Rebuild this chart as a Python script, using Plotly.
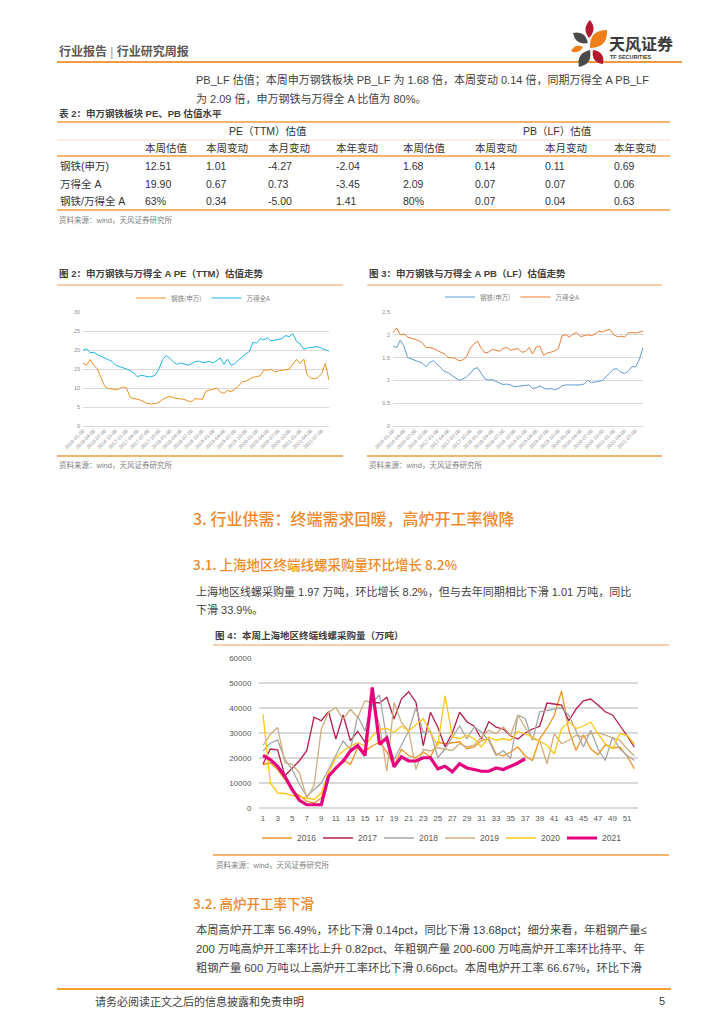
import plotly.graph_objects as go

W, H = 724, 1024
FONT = "Liberation Sans, Noto Sans CJK SC"
CJK = "Noto Sans CJK SC"

# ---------------- data: valuation trends (monthly) ----------------
val_dates = [f"{y}-{m:02d}-08" for y in range(2016, 2022) for m in range(1, 13)][:69]

steel_pe = [16.5, 16.0, 17.5, 16.0, 15.0, 12.5, 10.5, 9.8, 9.8, 9.5,
            9.8, 10.3, 10.0, 7.5, 7.3, 7.0, 6.8, 6.3, 5.9, 5.8,
            5.9, 6.2, 7.0, 7.5, 7.8, 7.4, 7.3, 7.3, 7.0, 6.6,
            6.4, 7.2, 7.1, 7.0, 9.2, 9.5, 9.7, 9.9, 9.0, 8.6,
            9.4, 9.0, 9.7, 10.5, 11.6, 11.8, 12.3, 12.8, 13.0, 13.2,
            14.8, 14.6, 15.0, 14.2, 14.5, 14.6, 14.8, 15.0, 16.2, 17.5,
            16.5, 17.6, 13.5, 12.6, 12.4, 12.8, 13.8, 16.5, 12.0]
windA_pe = [20.0, 20.3, 19.3, 19.4, 18.8, 18.3, 17.8, 17.5, 17.0, 16.0,
            15.7, 15.5, 15.0, 14.6, 14.0, 13.0, 13.3, 13.2, 12.9, 13.0,
            13.4, 15.0, 17.5, 18.5, 17.8, 16.8, 16.2, 16.6, 16.3, 16.0,
            16.4, 16.9, 17.1, 16.7, 16.8, 17.0, 16.6, 17.2, 17.9, 16.2,
            17.6, 16.0, 16.4, 17.3, 18.3, 19.0, 19.6, 22.0, 21.8, 23.0,
            22.7, 23.2, 22.4, 22.6, 22.8, 23.0, 23.8, 23.5, 24.3, 22.3,
            21.6, 20.2, 20.5, 20.6, 20.8, 20.9, 20.4, 20.0, 19.7]
steel_pb = [1.75, 1.72, 1.88, 1.75, 1.50, 1.47, 1.43, 1.40, 1.38, 1.30,
            1.40, 1.43, 1.35, 1.25, 1.20, 1.17, 1.12, 1.05, 1.00, 1.03,
            1.08, 1.15, 1.25, 1.28, 1.15, 1.03, 1.01, 1.02, 0.98, 0.94,
            0.91, 0.92, 0.90, 0.86, 0.87, 0.89, 0.90, 0.90, 0.82, 0.84,
            0.88, 0.83, 0.81, 0.82, 0.80, 0.82, 0.88, 0.90, 0.90, 0.90,
            0.90, 0.90, 0.92, 1.00, 0.95, 0.96, 0.98, 1.00, 1.08, 1.17,
            1.25, 1.25, 1.18, 1.15, 1.20, 1.30, 1.30, 1.45, 1.72]
windA_pb = [2.05, 2.15, 2.00, 2.02, 1.95, 1.93, 1.90, 1.87, 1.82, 1.72,
            1.72, 1.70, 1.66, 1.62, 1.58, 1.50, 1.50, 1.48, 1.43, 1.45,
            1.52, 1.70, 1.80, 1.86, 1.70, 1.60, 1.62, 1.68, 1.66, 1.64,
            1.70, 1.72, 1.66, 1.68, 1.70, 1.62, 1.63, 1.72, 1.58, 1.73,
            1.75, 1.55, 1.60, 1.62, 1.65, 1.70, 1.98, 2.00, 1.95, 2.02,
            2.05, 1.96, 1.98, 2.00, 1.98, 2.02, 2.08, 2.06, 2.10, 2.12,
            2.00, 1.96, 1.97, 1.95, 2.04, 2.05, 2.04, 2.06, 2.08]

# ---------------- data: Shanghai rebar purchases by week ----------------
weeks = list(range(1, 53))
week_ticks = list(range(1, 52, 2))
rebar_years = ["2016", "2017", "2018", "2019", "2020", "2021"]
rebar_2016 = [17400, 18100, 15400, 11400, 6700, 5000, 2700, 2000, 4000, 12700,
              15400, 19400, 17400, 24100, 22800, 24800, 26400, 22400, 16800, 23500,
              21000, 20100, 22400, 20500, 26400, 25700, 26100, 26500, 23700, 24400,
              27100, 27700, 21700, 20800, 22400, 24400, 20800, 19000, 27700, 31800,
              37100, 46800, 31100, 23000, 29300, 23700, 21300, 25300, 24000, 24400,
              20800, 15700]
rebar_2017 = [17600, 23600, 23300, 12900, 15900, 18900, 22900, 36300, 34900, 38500,
              27600, 37200, 26900, 30700, 26300, 42300, 42000, 44300, 35600, 43600,
              46500, 42300, 24900, 38300, 32300, 24500, 30000, 38300, 34500, 32700,
              27600, 34500, 32300, 31600, 28900, 27600, 30000, 31600, 32700, 42000,
              41600, 41200, 34900, 39600, 42900, 43600, 41200, 38500, 37200, 33200,
              28900, 24300]
rebar_2018 = [22800, 25900, 27200, 19400, 15400, 9400, 4700, 7400, 10000, 15400,
              21400, 26800, 23400, 36900, 30800, 42200, 45200, 27500, 19400, 24800,
              30800, 40200, 30200, 30800, 20100, 23700, 28400, 32800, 27700, 32400,
              30400, 27100, 21000, 23000, 19700, 37100, 35800, 27100, 38500, 39100,
              39500, 40100, 37100, 30400, 24400, 31100, 23700, 19000, 28400, 23700,
              21000, 19000]
rebar_2019 = [25000, 29500, 32200, 18100, 17400, 14100, 4000, 9000, 31500, 38200,
              40200, 35500, 39500, 36200, 42900, 42200, 33500, 14700, 42200, 34200,
              30800, 15400, 23500, 22800, 24100, 23700, 23000, 25700, 24400, 25100,
              28400, 31100, 29700, 32400, 29100, 37100, 32400, 27500, 27100, 17700,
              29700, 25700, 27100, 29100, 28400, 29700, 30100, 29100, 28400, 27100,
              23700, 20800]
rebar_2020 = [37500, 10000, 6000, 5800, 5000, 4400, 4000, 3400, 6000, 14100,
              20100, 22800, 24800, 26100, 24800, 28800, 31500, 31800, 30200, 32800,
              30800, 33500, 35800, 30200, 24800, 45000, 28400, 27700, 29100, 27700,
              24400, 28400, 27100, 27700, 27100, 30700, 29700, 28400, 26700, 25100,
              21700, 31800, 34400, 31800, 32800, 34400, 29700, 25700, 23700, 29700,
              29100, 25700]
rebar_2021 = [21000, 19400, 16700, 12700, 7400, 3100, 1300, 1300, 1300, 12700,
              16000, 18700, 22800, 25000, 21000, 48200, 25500, 28000, 16500, 20500,
              18800, 18800, 20100, 20100, 15700, 16700, 14500, 17700, 16000, 15400,
              14700, 14700, 16000, 15400, 16700, 18000, 19700]

# ---------------- data: table 2 ----------------
table_groups = ["PE（TTM）估值", "PB（LF）估值"]
table_subheads = ["本周估值", "本周变动", "本月变动", "本年变动",
                  "本周估值", "本周变动", "本月变动", "本年变动"]
table_rows = ["钢铁(申万)", "万得全 A", "钢铁/万得全 A"]
table_vals = [["12.51", "1.01", "-4.27", "-2.04", "1.68", "0.14", "0.11", "0.69"],
              ["19.90", "0.67", "0.73", "-3.45", "2.09", "0.07", "0.07", "0.06"],
              ["63%", "0.34", "-5.00", "1.41", "80%", "0.07", "0.04", "0.63"]]

# ---------------- helpers (pixel -> paper) ----------------
def X(px):
    return px / W

def Y(py):
    return 1 - py / H

annotations = []
shapes = []

def txt(x, y, s, size=11.5, color="#3F3F3F", anchor="left", family=FONT, weight=None):
    f = dict(size=size, color=color, family=family)
    if weight:
        f["weight"] = weight
    annotations.append(dict(x=X(x), y=Y(y), xref="paper", yref="paper", text=s,
                            showarrow=False, xanchor=anchor, yanchor="middle",
                            font=f, align=anchor))

def rule(x0, x1, y, color="#F29B3C", width=1.5):
    shapes.append(dict(type="line", xref="paper", yref="paper", x0=X(x0), x1=X(x1),
                       y0=Y(y), y1=Y(y), line=dict(color=color, width=width)))

def leaf(ax, ay, bx, by, w, color):
    mx, my = (ax + bx) / 2, (ay + by) / 2
    dx, dy = bx - ax, by - ay
    L = (dx * dx + dy * dy) ** 0.5
    nx, ny = -dy / L, dx / L
    c1 = (mx + nx * w, my + ny * w)
    c2 = (mx - nx * w, my - ny * w)
    p = (f"M{X(ax)},{Y(ay)} Q{X(c1[0])},{Y(c1[1])} {X(bx)},{Y(by)} "
         f"Q{X(c2[0])},{Y(c2[1])} {X(ax)},{Y(ay)} Z")
    shapes.append(dict(type="path", xref="paper", yref="paper", path=p,
                       fillcolor=color, line=dict(width=0)))

ORANGE = "#F29B3C"
LIGHT = "#F7C08F"
GRID = "#D9D9D9"
GREY = "#7F7F7F"

# ---------------- page header ----------------
txt(57, 51, "<b>行业报告</b> <span style='color:#999'>|</span> <b>行业研究周报</b>", 12, "#595959")
rule(57, 682, 62, ORANGE, 2)
RED, DARK, ORG = "#B3182F", "#4A4A4A", "#EF7F1A"
leaf(590, 20, 589, 38, 8, RED)
leaf(573, 33, 588, 43, 9, DARK)
leaf(607, 30, 590, 48, 13, ORG)
leaf(571, 51, 583, 47, 6, ORG)
leaf(590, 50, 579, 67, 10, DARK)
leaf(593, 50, 603, 64, 9, RED)
txt(607, 43, "<b>天风证券</b>", 16, "#3A3A3A", family=CJK)
txt(608, 57, "<b>TF SECURITIES</b>", 5.5, "#3A3A3A")

# ---------------- paragraph + table ----------------
txt(194, 79, "PB_LF 估值；本周申万钢铁板块 PB_LF 为 1.68 倍，本周变动 0.14 倍，同期万得全 A PB_LF", 11)
txt(194, 98, "为 2.09 倍，申万钢铁与万得全 A 比值为 80%。", 11)
txt(57, 113, "<b>表 2：申万钢铁板块 PE、PB 估值水平</b>", 9.5, "#404040")
rule(57, 670, 122, ORANGE, 1.3)
rule(57, 670, 140, "#F9D3B0", 0.8)
rule(57, 670, 156, ORANGE, 1.3)
rule(57, 670, 210, ORANGE, 1.3)
col_x = [58, 143, 204, 266, 334, 401, 473, 543, 612]
group_cx = [268, 557]
for g, cx in zip(table_groups, group_cx):
    txt(cx, 131, g, 10.5, "#333333", anchor="center")
for s, cx in zip(table_subheads, col_x[1:]):
    txt(cx, 148, s, 10.5, "#333333")
for r, (name, vals) in enumerate(zip(table_rows, table_vals)):
    yy = 166 + r * 17.5
    txt(col_x[0], yy, name, 10.5, "#333333")
    for v, cx in zip(vals, col_x[1:]):
        txt(cx, yy, v, 10.5, "#333333")
txt(57, 220, "资料来源：wind，天风证券研究所", 7.5, GREY)

# ---------------- figure 2 / 3 frames ----------------
txt(57, 273, "<b>图 2：申万钢铁与万得全 A PE（TTM）估值走势</b>", 9.5, "#404040")
rule(57, 343, 285, LIGHT, 1.3)
rule(57, 343, 456, ORANGE, 1.3)
txt(57, 465, "资料来源：wind，天风证券研究所", 7.5, GREY)
txt(367, 273, "<b>图 3：申万钢铁与万得全 A PB（LF）估值走势</b>", 9.5, "#404040")
rule(367, 662, 285, LIGHT, 1.3)
rule(367, 662, 456, ORANGE, 1.3)
txt(367, 465, "资料来源：wind，天风证券研究所", 7.5, GREY)

# ---------------- section 3 ----------------
txt(191, 518, "3. 行业供需：终端需求回暖，高炉开工率微降", 16, "#F0892B", family=CJK, weight=500)
txt(191, 564, "3.1. 上海地区终端线螺采购量环比增长 8.2%", 13.5, "#F0892B", family=CJK, weight=500)
txt(194, 591, "上海地区线螺采购量 1.97 万吨，环比增长 8.2%，但与去年同期相比下滑 1.01 万吨，同比", 11)
txt(194, 610, "下滑 33.9%。", 11)
txt(213, 635, "<b>图 4：本周上海地区终端线螺采购量（万吨）</b>", 9.5, "#404040")
rule(213, 669, 645, LIGHT, 1.3)
rule(213, 669, 855, ORANGE, 1.3)
txt(214, 865, "资料来源：wind，天风证券研究所", 7.5, GREY)

txt(191, 903, "3.2. 高炉开工率下滑", 13.5, "#F0892B", family=CJK, weight=500)
txt(194, 929, "本周高炉开工率 56.49%，环比下滑 0.14pct，同比下滑 13.68pct；细分来看，年粗钢产量≤", 11.3)
txt(194, 948, "200 万吨高炉开工率环比上升 0.82pct、年粗钢产量 200-600 万吨高炉开工率环比持平、年", 11.3)
txt(194, 967, "粗钢产量 600 万吨以上高炉开工率环比下滑 0.66pct。本周电炉开工率 66.67%，环比下滑", 11.3)

# ---------------- footer ----------------
rule(57, 671, 989, "#F0A030", 2)
txt(93, 1001, "请务必阅读正文之后的信息披露和免责申明", 11, "#404040")
txt(667, 1001, "5", 11, "#404040", anchor="right")

# ---------------- traces ----------------
fig = go.Figure()
fig.add_trace(go.Scatter(x=val_dates, y=steel_pe, name="钢铁(申万)", mode="lines",
                         line=dict(color="#F0901E", width=1), xaxis="x", yaxis="y", legend="legend"))
fig.add_trace(go.Scatter(x=val_dates, y=windA_pe, name="万得全A", mode="lines",
                         line=dict(color="#1CB4F0", width=1), xaxis="x", yaxis="y", legend="legend"))
fig.add_trace(go.Scatter(x=val_dates, y=steel_pb, name="钢铁(申万)", mode="lines",
                         line=dict(color="#5B9BD5", width=1), xaxis="x2", yaxis="y2", legend="legend2"))
fig.add_trace(go.Scatter(x=val_dates, y=windA_pb, name="万得全A", mode="lines",
                         line=dict(color="#ED7D31", width=1), xaxis="x2", yaxis="y2", legend="legend2"))

rebar_series = [rebar_2016, rebar_2017, rebar_2018, rebar_2019, rebar_2020, rebar_2021]
rebar_colors = ["#F39322", "#B51F48", "#A6A6A6", "#CFAE80", "#FFC61A", "#E5007F"]
rebar_widths = [1.3, 1.3, 1.3, 1.3, 1.3, 3.2]
for yr, vals, col, lw in zip(rebar_years, rebar_series, rebar_colors, rebar_widths):
    fig.add_trace(go.Scatter(x=weeks[:len(vals)], y=vals, name=yr, mode="lines",
                             line=dict(color=col, width=lw), xaxis="x3", yaxis="y3",
                             legend="legend3"))

small_axis = dict(tickfont=dict(size=5.5, color="#8C8C8C"), showline=False, ticks="", automargin=False)
date_axis = dict(type="date", range=[val_dates[0], val_dates[-1]], tickformat="%Y-%m-%d",
                 dtick="M3", tick0=val_dates[0], tickangle=-45, showgrid=False,
                 zeroline=False, tickfont=dict(size=5, color="#8C8C8C"), ticks="",
                 showline=False, automargin=False)

legend_common = dict(orientation="h", bgcolor="rgba(0,0,0,0)", xanchor="center", yanchor="middle",
                     itemclick=False, itemdoubleclick=False, tracegroupgap=0)

fig.update_layout(
    width=W, height=H, autosize=False,
    margin=dict(l=0, r=0, t=0, b=0, pad=0, autoexpand=False),
    paper_bgcolor="white", plot_bgcolor="white",
    font=dict(family=FONT, color="#404040"),
    showlegend=True,
    xaxis=dict(domain=[X(83), X(329)], anchor="y", **date_axis),
    yaxis=dict(domain=[Y(426), Y(312)], anchor="x", range=[0, 30], dtick=5,
               gridcolor=GRID, gridwidth=0.8, zeroline=True, zerolinecolor=GRID,
               zerolinewidth=0.8, ticklabelstandoff=2, **small_axis),
    xaxis2=dict(domain=[X(393), X(643)], anchor="y2", **date_axis),
    yaxis2=dict(domain=[Y(426), Y(312)], anchor="x2", range=[0, 2.5], dtick=0.5,
                gridcolor=GRID, gridwidth=0.8, zeroline=True, zerolinecolor=GRID,
                zerolinewidth=0.8, ticklabelstandoff=2, **small_axis),
    xaxis3=dict(domain=[X(259.4), X(638)], anchor="y3", range=[0.5, 52.5],
                tickvals=week_ticks, showgrid=False, zeroline=False, showline=False,
                ticks="", ticklabelstandoff=4, automargin=False,
                tickfont=dict(size=8, color="#595959")),
    yaxis3=dict(domain=[Y(808), Y(658)], anchor="x3", range=[0, 60000], dtick=10000,
                tickformat="d", gridcolor=GRID, gridwidth=1.5, zeroline=True,
                zerolinecolor=GRID, zerolinewidth=1.5, showline=False, ticks="",
                ticklabelstandoff=7, automargin=False, tickfont=dict(size=8, color="#595959")),
    legend=dict(x=X(203), y=Y(298), font=dict(size=6.5, color="#7F7F7F", family=CJK), **legend_common),
    legend2=dict(x=X(512), y=Y(297), font=dict(size=6.5, color="#7F7F7F", family=CJK), **legend_common),
    legend3=dict(x=X(440), y=Y(838), font=dict(size=8.5, color="#595959"), entrywidth=16, **legend_common),
    annotations=annotations,
    shapes=shapes,
)

fig.write_html("out.html", config={"displayModeBar": False},
               post_script="document.body.style.margin='0px';")
